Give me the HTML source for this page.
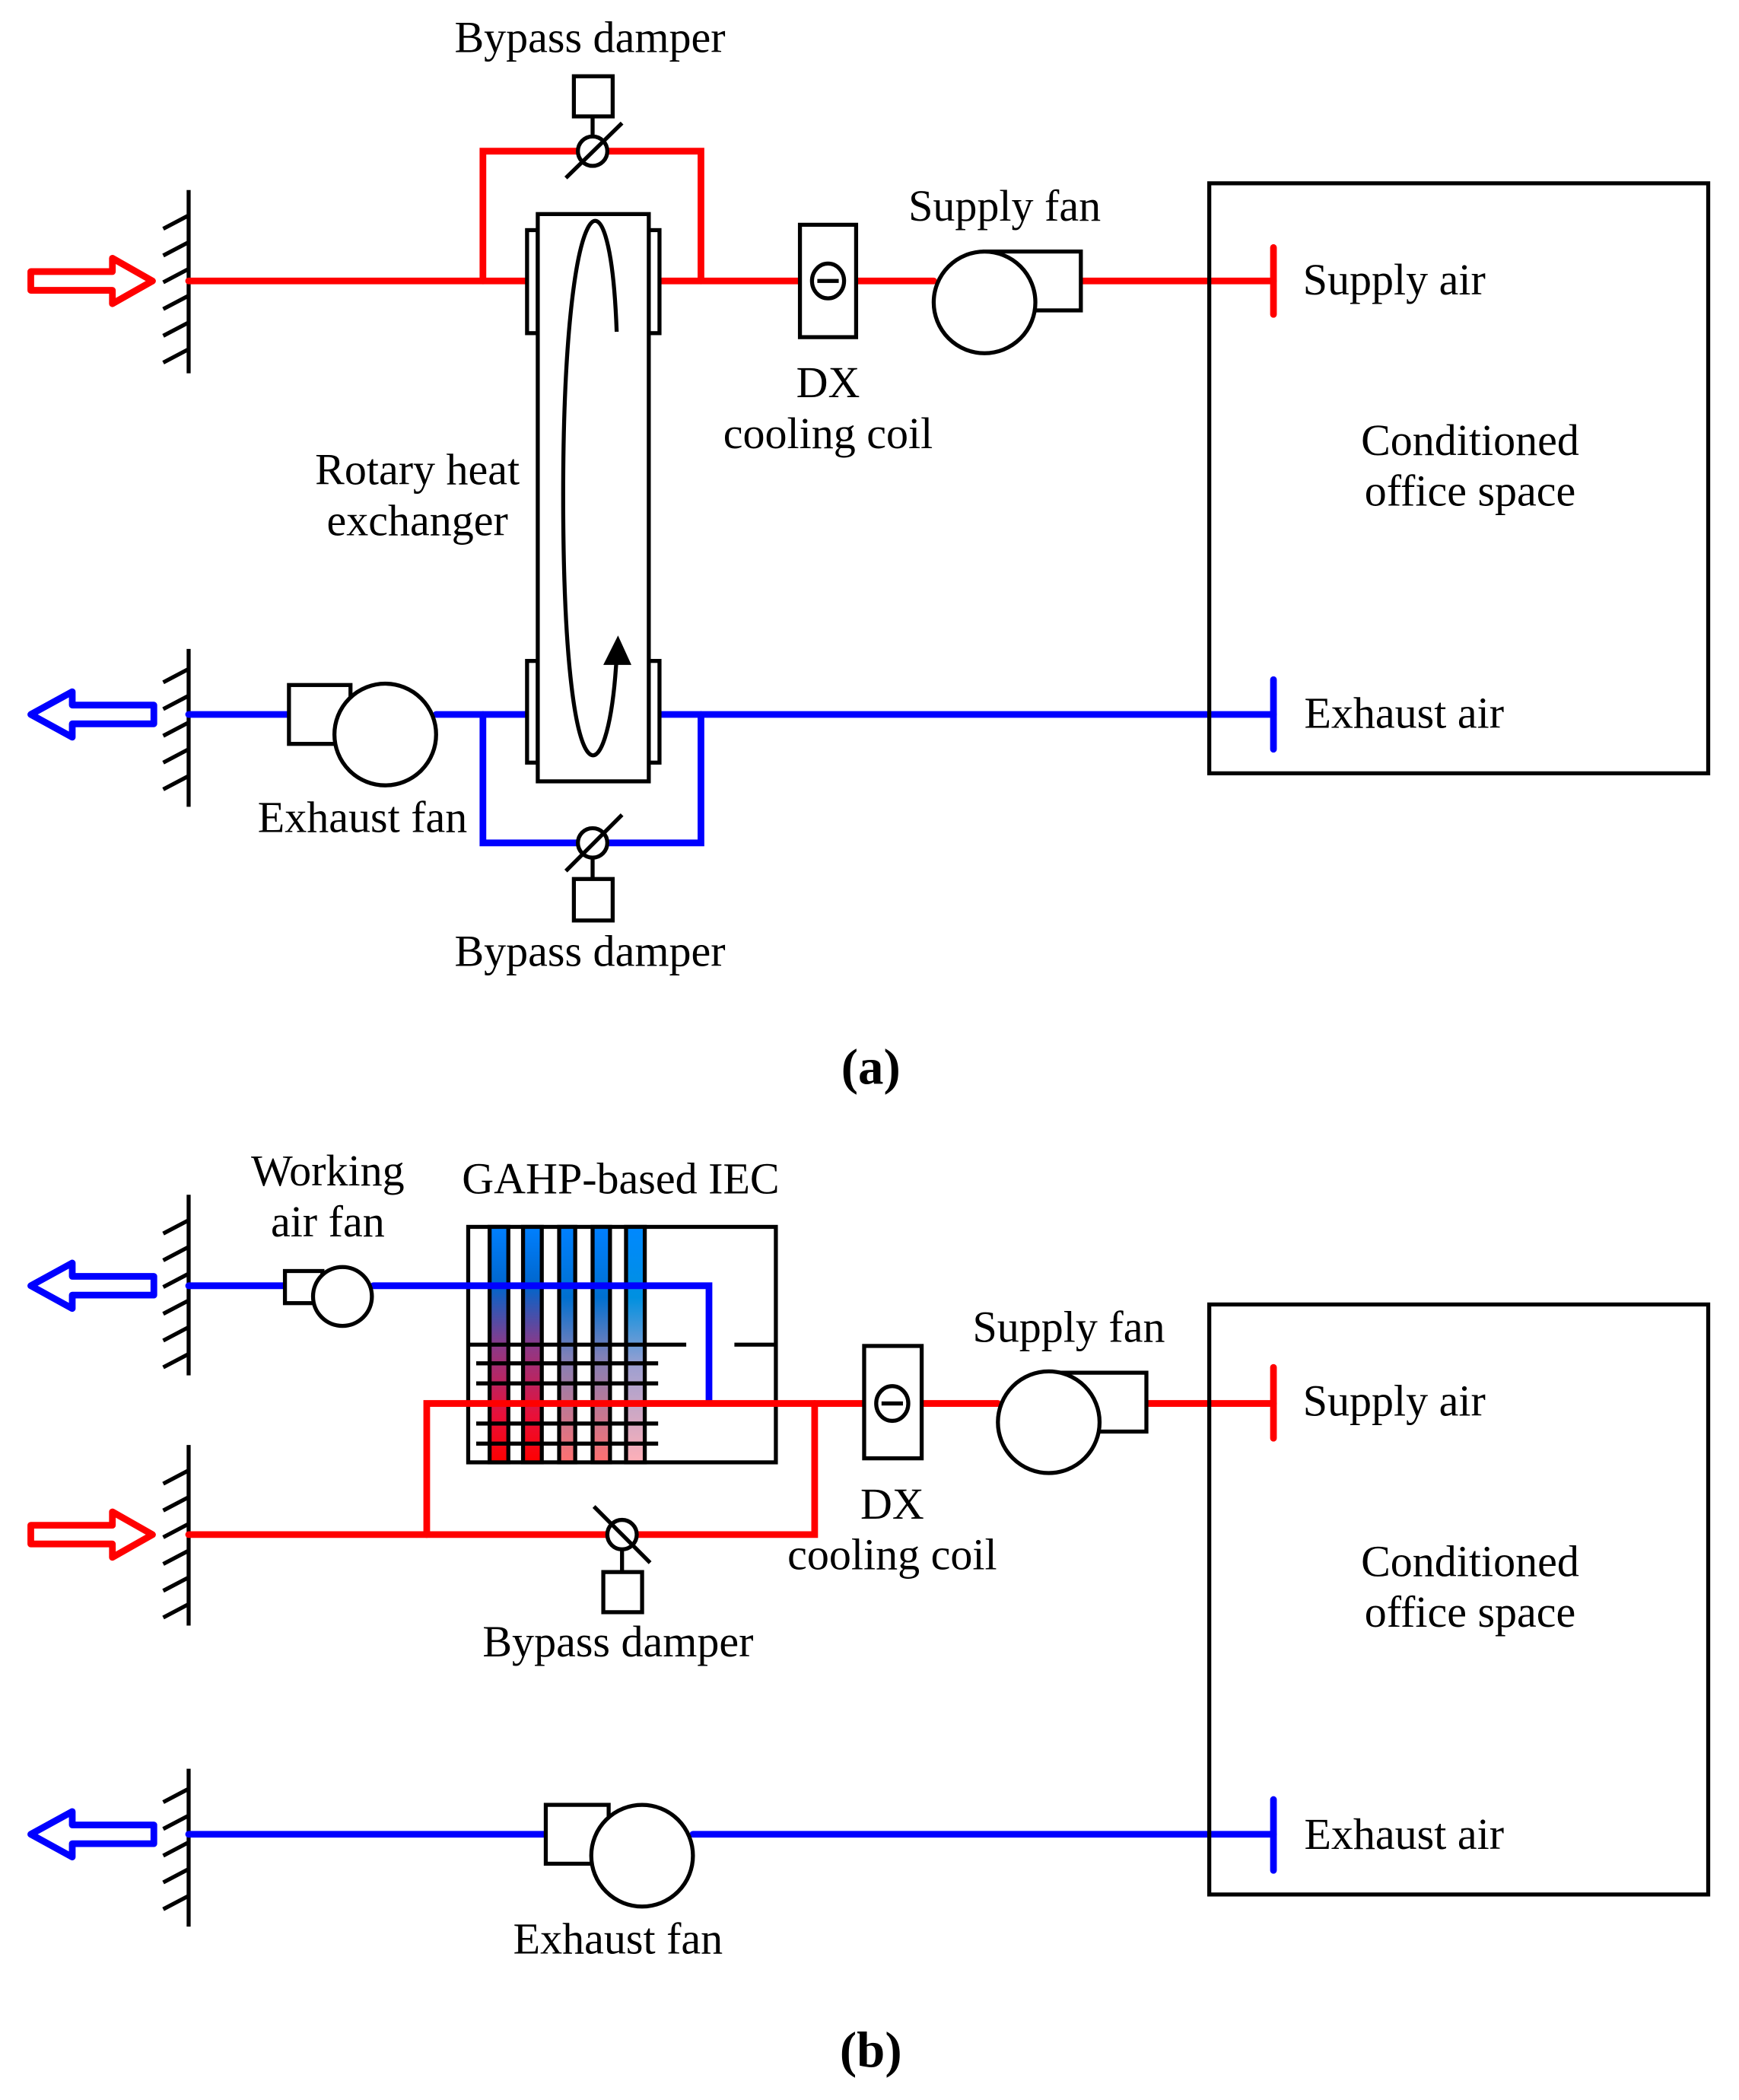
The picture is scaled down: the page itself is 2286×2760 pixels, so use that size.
<!DOCTYPE html>
<html><head><meta charset="utf-8"><style>html,body{margin:0;padding:0;background:#fff}svg{display:block}</style></head>
<body>
<svg width="2286" height="2760" viewBox="0 0 1300 1569.6" xmlns="http://www.w3.org/2000/svg">
<defs>
<linearGradient id="g1" x1="0" y1="0" x2="0" y2="1"><stop offset="0" stop-color="#0080ff"/><stop offset="0.25" stop-color="#0066cc"/><stop offset="0.5" stop-color="#8a3a8a"/><stop offset="0.8" stop-color="#e8103a"/><stop offset="1" stop-color="#ff0000"/></linearGradient>
<linearGradient id="g2" x1="0" y1="0" x2="0" y2="1"><stop offset="0" stop-color="#0080ff"/><stop offset="0.3" stop-color="#0070d0"/><stop offset="0.55" stop-color="#8080b8"/><stop offset="1" stop-color="#ff7070"/></linearGradient>
<linearGradient id="g3" x1="0" y1="0" x2="0" y2="1"><stop offset="0" stop-color="#0088ff"/><stop offset="0.3" stop-color="#0090e0"/><stop offset="0.6" stop-color="#a0a0d0"/><stop offset="1" stop-color="#ffb0b8"/></linearGradient>
</defs>
<rect width="1300" height="1569.6" fill="#fff"/>
<g font-family="Liberation Serif, serif" font-size="33" fill="#000" text-anchor="middle">
<g stroke="#000" stroke-width="3" fill="none">
<line x1="141" y1="142" x2="141" y2="279"/>
<path d="M141,161 l-19,10 M141,181 l-19,10 M141,201 l-19,10 M141,221 l-19,10 M141,241 l-19,10 M141,261 l-19,10"/>
<line x1="141" y1="485" x2="141" y2="603"/>
<path d="M141,500 l-19,10 M141,520 l-19,10 M141,540 l-19,10 M141,560 l-19,10 M141,580 l-19,10"/>
</g>
<path d="M23,203 H84 V193 L114,210 L84,227 V217 H23 Z" fill="#fff" stroke="#f00" stroke-width="5" stroke-linejoin="round"/>
<path d="M115,527 H54 V517 L23,534 L54,551 V541 H115 Z" fill="#fff" stroke="#00f" stroke-width="5" stroke-linejoin="round"/>
<g stroke="#f00" stroke-width="5" fill="none" stroke-linecap="round">
<line x1="141" y1="210" x2="394" y2="210"/>
<path d="M361,210 V113 H432"/>
<path d="M455,113 H524 V210"/>
<line x1="494" y1="210" x2="598" y2="210"/>
<line x1="640" y1="210" x2="698" y2="210"/>
<line x1="808" y1="210" x2="952" y2="210"/>
<line x1="952" y1="185" x2="952" y2="235"/>
</g>
<g stroke="#00f" stroke-width="5" fill="none" stroke-linecap="round">
<line x1="141" y1="534" x2="216" y2="534"/>
<line x1="326" y1="534" x2="394" y2="534"/>
<path d="M361,534 V630 H432"/>
<path d="M455,630 H524 V534"/>
<line x1="494" y1="534" x2="952" y2="534"/>
<line x1="952" y1="508" x2="952" y2="560"/>
</g>
<g stroke="#000" stroke-width="3" fill="#fff">
<rect x="394" y="172" width="8" height="77"/>
<rect x="485" y="172" width="8" height="77"/>
<rect x="394" y="494" width="8" height="76"/>
<rect x="485" y="494" width="8" height="76"/>
<rect x="402" y="160" width="83" height="424"/>
<path d="M461,248 C456,110 421,140 421,370 C421,610 455,600 461,490" fill="none"/>
<circle cx="443" cy="113" r="11"/>
<line x1="423" y1="133" x2="465" y2="92"/>
<line x1="443" y1="102" x2="443" y2="87"/>
<rect x="429" y="57" width="29" height="30"/>
<circle cx="443" cy="630" r="11"/>
<line x1="423" y1="651" x2="465" y2="609"/>
<line x1="443" y1="641" x2="443" y2="657"/>
<rect x="429" y="657" width="29" height="31"/>
<rect x="598" y="168" width="42" height="84"/>
<ellipse cx="619" cy="210" rx="12" ry="13"/>
<line x1="611" y1="210" x2="627" y2="210"/>
<rect x="736" y="188" width="72" height="44"/>
<circle cx="736" cy="226" r="38"/>
<rect x="216" y="512" width="46" height="44"/>
<circle cx="288" cy="549" r="38"/>
<rect x="904" y="137" width="373" height="441" fill="none"/>
</g>
<path d="M451,497 L462,475 L472,497 Z" fill="#000"/>
<text x="441" y="39">Bypass damper</text>
<text x="751" y="165">Supply fan</text>
<text x="619" y="297">DX</text>
<text x="619" y="335">cooling coil</text>
<text x="312" y="362">Rotary heat</text>
<text x="312" y="400">exchanger</text>
<text x="1099" y="340">Conditioned</text>
<text x="1099" y="378">office space</text>
<text x="974" y="220" text-anchor="start">Supply air</text>
<text x="975" y="544" text-anchor="start">Exhaust air</text>
<text x="271" y="622">Exhaust fan</text>
<text x="441" y="722">Bypass damper</text>
<text x="651" y="810" font-size="38" font-weight="bold">(a)</text>

<g stroke="#000" stroke-width="3" fill="none">
<line x1="141" y1="893" x2="141" y2="1028"/>
<path d="M141,912 l-19,10 M141,932 l-19,10 M141,952 l-19,10 M141,972 l-19,10 M141,992 l-19,10 M141,1012 l-19,10"/>
<line x1="141" y1="1080" x2="141" y2="1215"/>
<path d="M141,1099 l-19,10 M141,1119 l-19,10 M141,1139 l-19,10 M141,1159 l-19,10 M141,1179 l-19,10 M141,1199 l-19,10"/>
<line x1="141" y1="1322" x2="141" y2="1440"/>
<path d="M141,1337 l-19,10 M141,1357 l-19,10 M141,1377 l-19,10 M141,1397 l-19,10 M141,1417 l-19,10"/>
</g>
<path d="M115,954 H54 V944 L23,961 L54,978 V968 H115 Z" fill="#fff" stroke="#00f" stroke-width="5" stroke-linejoin="round"/>
<path d="M23,1140 H84 V1130 L114,1147 L84,1164 V1154 H23 Z" fill="#fff" stroke="#f00" stroke-width="5" stroke-linejoin="round"/>
<path d="M115,1364 H54 V1354 L23,1371 L54,1388 V1378 H115 Z" fill="#fff" stroke="#00f" stroke-width="5" stroke-linejoin="round"/>
<g stroke="#000" stroke-width="3">
<rect x="350" y="917" width="230" height="176" fill="#fff"/>
<rect x="366" y="917" width="14" height="176" fill="url(#g1)"/>
<rect x="391" y="917" width="14" height="176" fill="url(#g1)"/>
<rect x="418" y="917" width="12" height="176" fill="url(#g2)"/>
<rect x="443" y="917" width="13" height="176" fill="url(#g2)"/>
<rect x="468" y="917" width="14" height="176" fill="url(#g3)"/>
<path d="M350,1005 H513 M549,1005 H580 M356,1019 H492 M356,1034 H492 M356,1064 H492 M356,1079 H492" fill="none"/>
</g>
<g stroke="#00f" stroke-width="5" fill="none" stroke-linecap="round">
<line x1="141" y1="961" x2="213" y2="961"/>
<path d="M279,961 H530 V1047"/>
<line x1="141" y1="1371" x2="408" y2="1371"/>
<line x1="518" y1="1371" x2="952" y2="1371"/>
<line x1="952" y1="1345" x2="952" y2="1398"/>
</g>
<g stroke="#f00" stroke-width="5" fill="none" stroke-linecap="round">
<path d="M141,1147 H454"/>
<path d="M476,1147 H609 V1049"/>
<path d="M319,1147 V1049 H646"/>
<line x1="689" y1="1049" x2="746" y2="1049"/>
<line x1="857" y1="1049" x2="952" y2="1049"/>
<line x1="952" y1="1022" x2="952" y2="1075"/>
</g>
<g stroke="#000" stroke-width="3" fill="#fff">
<rect x="213" y="950" width="28" height="24"/>
<circle cx="256" cy="969" r="22"/>
<circle cx="465" cy="1147" r="11"/>
<line x1="444" y1="1126" x2="486" y2="1168"/>
<line x1="465" y1="1158" x2="465" y2="1175"/>
<rect x="451" y="1175" width="29" height="30"/>
<rect x="646" y="1006" width="43" height="84"/>
<ellipse cx="667" cy="1049" rx="12" ry="13"/>
<line x1="659" y1="1049" x2="675" y2="1049"/>
<rect x="784" y="1026" width="73" height="44"/>
<circle cx="784" cy="1063" r="38"/>
<rect x="408" y="1349" width="47" height="44"/>
<circle cx="480" cy="1387" r="38"/>
<rect x="904" y="975" width="373" height="441" fill="none"/>
</g>
<text x="245" y="886">Working</text>
<text x="245" y="924">air fan</text>
<text x="464" y="892">GAHP-based IEC</text>
<text x="799" y="1003">Supply fan</text>
<text x="667" y="1135">DX</text>
<text x="667" y="1173">cooling coil</text>
<text x="1099" y="1178">Conditioned</text>
<text x="1099" y="1216">office space</text>
<text x="974" y="1058" text-anchor="start">Supply air</text>
<text x="975" y="1382" text-anchor="start">Exhaust air</text>
<text x="462" y="1238">Bypass damper</text>
<text x="462" y="1460">Exhaust fan</text>
<text x="651" y="1545" font-size="38" font-weight="bold">(b)</text>
</g>
</svg>
</body></html>
